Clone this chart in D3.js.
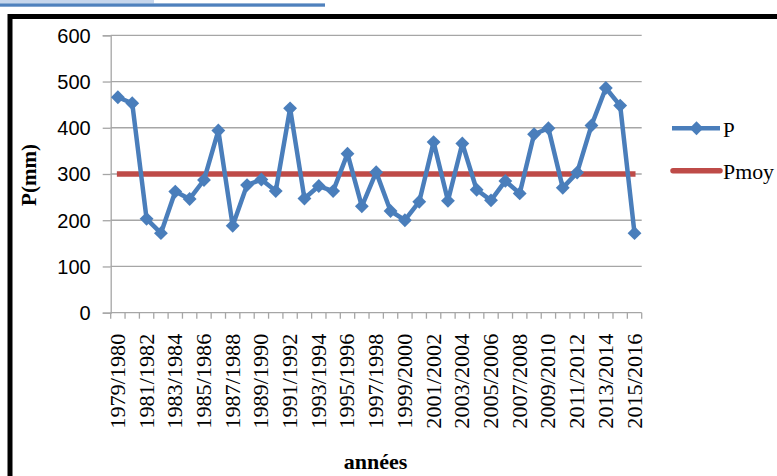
<!DOCTYPE html>
<html>
<head>
<meta charset="utf-8">
<script src="https://cdn.jsdelivr.net/npm/d3@7"></script>
<style>
  html, body { margin: 0; padding: 0; background: #fff; }
  svg { display: block; }
</style>
</head>
<body>
<svg id="chart" width="777" height="476"></svg>
<script>
// Hydrological years
const years = [
  "1979/1980","1980/1981","1981/1982","1982/1983","1983/1984","1984/1985",
  "1985/1986","1986/1987","1987/1988","1988/1989","1989/1990","1990/1991",
  "1991/1992","1992/1993","1993/1994","1994/1995","1995/1996","1996/1997",
  "1997/1998","1998/1999","1999/2000","2000/2001","2001/2002","2002/2003",
  "2003/2004","2004/2005","2005/2006","2006/2007","2007/2008","2008/2009",
  "2009/2010","2010/2011","2011/2012","2012/2013","2013/2014","2014/2015",
  "2015/2016"
];
// Annual precipitation P (mm)
const precip = [
  466, 453, 203, 172, 262, 246, 287, 394, 188, 276, 288, 263,
  442, 247, 274, 263, 344, 230, 304, 220, 200, 240, 369, 242,
  366, 266, 243, 285, 258, 386, 399, 270, 303, 405, 486, 448,
  172
];
// Mean precipitation Pmoy (mm)
const pMean = 300;
// Labels shown on the axes
const yTicks = [0, 100, 200, 300, 400, 500, 600];
const xTickLabels = years.filter((d, i) => i % 2 === 0);

const svg = d3.select("#chart");

const blue = "#4a7ebb";
const red = "#be4b48";
const grid = "#a6a6a6";
const serif = "'Liberation Serif', 'Times New Roman', serif";

// Page decorations: header rules and frame
svg.append("rect").attr("x", 0).attr("y", 0).attr("width", 154).attr("height", 3.4).attr("fill", "#c6d6ec");
svg.append("rect").attr("x", 0).attr("y", 3.4).attr("width", 325).attr("height", 3.3).attr("fill", "#4f81bd");
svg.append("rect").attr("x", 10).attr("y", 16.5).attr("width", 800).attr("height", 500)
  .attr("fill", "#fff").attr("stroke", "#000").attr("stroke-width", 5);

const x = d3.scaleBand().domain(years).range([110.7, 641.7]).padding(0);
const y = d3.scaleLinear().domain([0, 600]).range([312.7, 35.3]);

// Horizontal gridlines with y-axis labels
const yAxis = d3.axisLeft(y).tickValues(yTicks).tickSize(8).tickPadding(12);
const gy = svg.append("g").attr("transform", "translate(110.7,0)").call(yAxis);
gy.select(".domain").attr("stroke", grid).attr("stroke-width", 1.3);
gy.selectAll(".tick line").attr("stroke", grid).attr("stroke-width", 1.3);
gy.selectAll(".tick text")
  .attr("font-family", "'Liberation Sans', Arial, sans-serif")
  .attr("font-size", 20).attr("fill", "#000").attr("dy", "0.34em");
svg.append("g").selectAll("line").data(yTicks.filter(d => d > 0)).join("line")
  .attr("x1", 110.7).attr("x2", 641.7)
  .attr("y1", d => y(d)).attr("y2", d => y(d))
  .attr("stroke", grid).attr("stroke-width", 1.3);

// Category axis: ticks at band edges, labels on every other year
const gx = svg.append("g").attr("transform", "translate(0,312.7)");
gx.append("line").attr("x1", 110.7).attr("x2", 641.7).attr("stroke", grid).attr("stroke-width", 1.3);
const edges = years.map(d => x(d)).concat([x(years[years.length - 1]) + x.bandwidth()]);
gx.selectAll("line.tk").data(edges).join("line").attr("class", "tk")
  .attr("x1", d => d).attr("x2", d => d).attr("y1", 0).attr("y2", 6)
  .attr("stroke", grid).attr("stroke-width", 1.3);
gx.selectAll("text").data(xTickLabels).join("text")
  .attr("transform", d => `translate(${x(d) + x.bandwidth() / 2 + 7},21) rotate(-90)`)
  .attr("text-anchor", "end")
  .attr("font-family", serif)
  .attr("font-size", 20.5)
  .attr("textLength", 95).attr("lengthAdjust", "spacingAndGlyphs")
  .text(d => d);

// Axis titles
svg.append("text")
  .attr("transform", "translate(36,175) rotate(-90)")
  .attr("text-anchor", "middle")
  .attr("font-family", serif)
  .attr("font-size", 21).attr("font-weight", "bold")
  .text("P(mm)");
svg.append("text")
  .attr("x", 375.5).attr("y", 469)
  .attr("text-anchor", "middle")
  .attr("font-family", serif)
  .attr("font-size", 22).attr("font-weight", "bold")
  .text("années");

const cx = d => x(d) + x.bandwidth() / 2;

// Mean line
svg.append("line")
  .attr("x1", cx(years[0]) - 1).attr("x2", cx(years[years.length - 1]) + 1)
  .attr("y1", y(pMean)).attr("y2", y(pMean))
  .attr("stroke", red).attr("stroke-width", 5.5);

// Precipitation series
const line = d3.line().x((d, i) => cx(years[i])).y(d => y(d));
svg.append("path").datum(precip)
  .attr("d", line).attr("fill", "none")
  .attr("stroke", blue).attr("stroke-width", 4.5).attr("stroke-linejoin", "round");

const diamond = d3.symbol().type(d3.symbolSquare).size(96);
svg.append("g").selectAll("path").data(precip).join("path")
  .attr("transform", (d, i) => `translate(${cx(years[i])},${y(d)}) rotate(45)`)
  .attr("d", diamond).attr("fill", blue);

// Legend
const lg = svg.append("g");
lg.append("line").attr("x1", 672).attr("x2", 720).attr("y1", 128.3).attr("y2", 128.3)
  .attr("stroke", blue).attr("stroke-width", 4.5);
lg.append("path").attr("transform", "translate(696.5,128.3) rotate(45)").attr("d", diamond).attr("fill", blue);
lg.append("text").attr("x", 723).attr("y", 137)
  .attr("font-family", serif).attr("font-size", 21)
  .text("P");
lg.append("line").attr("x1", 673).attr("x2", 720).attr("y1", 170.7).attr("y2", 170.7)
  .attr("stroke", red).attr("stroke-width", 5.5).attr("stroke-linecap", "round");
lg.append("text").attr("x", 723).attr("y", 179)
  .attr("font-family", serif).attr("font-size", 21)
  .attr("textLength", 51).attr("lengthAdjust", "spacingAndGlyphs")
  .text("Pmoy");
</script>
</body>
</html>
